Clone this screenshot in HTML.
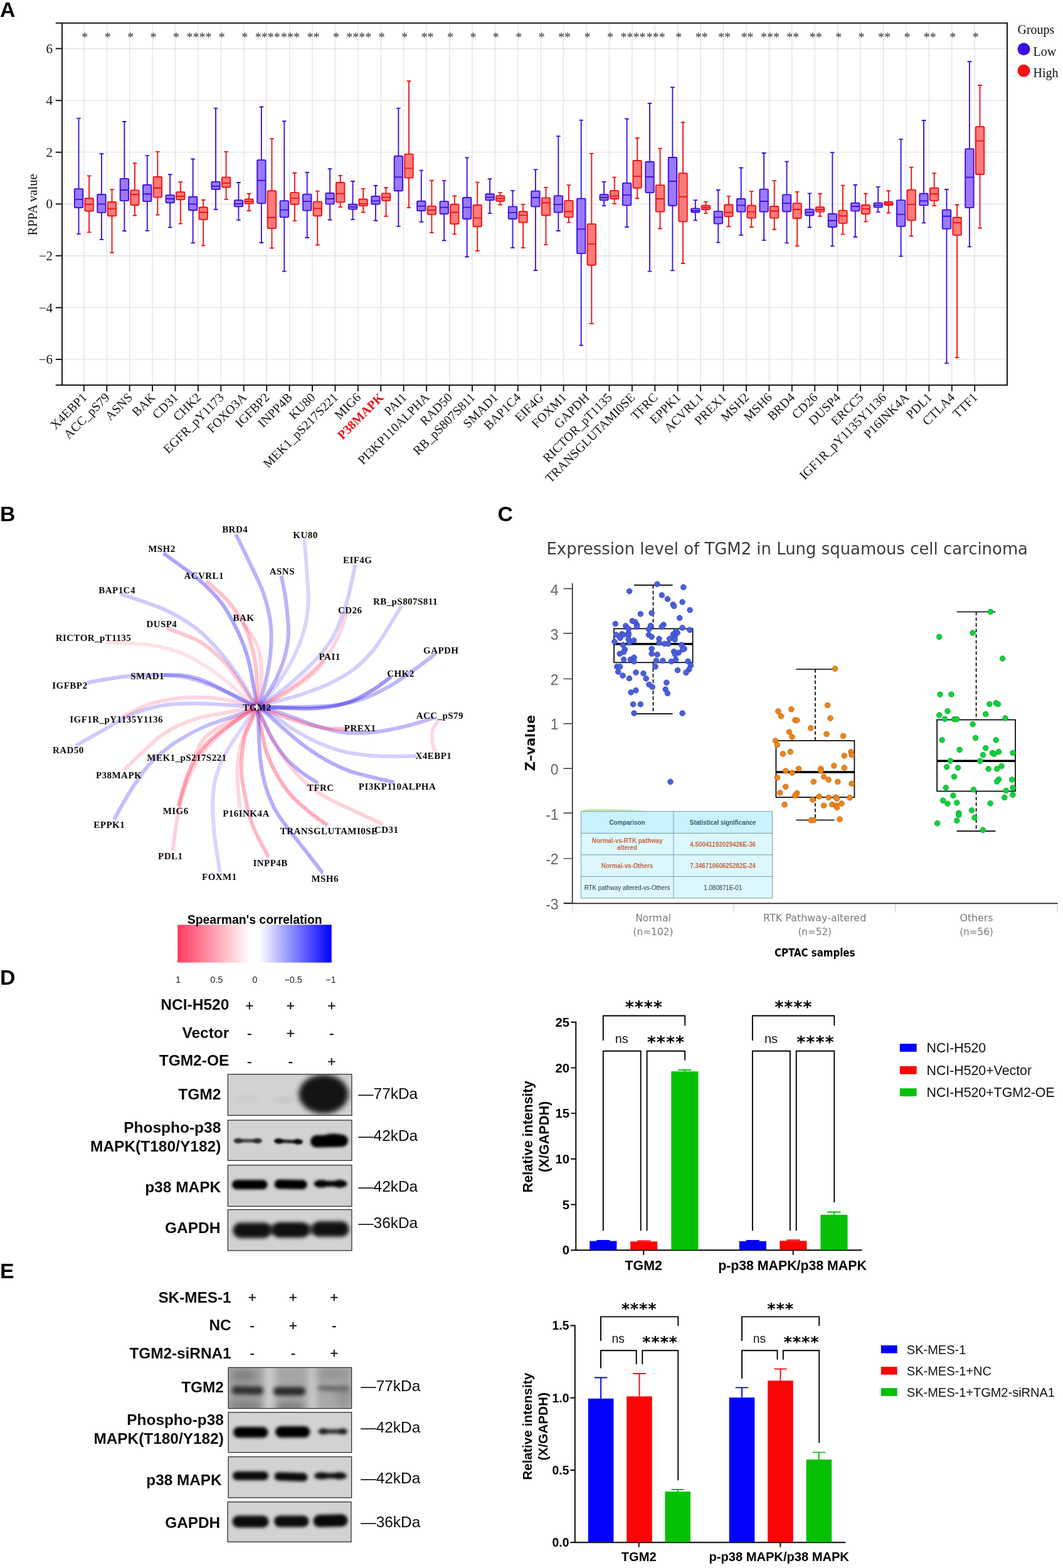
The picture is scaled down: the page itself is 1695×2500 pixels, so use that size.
<!DOCTYPE html>
<html lang="en"><head><meta charset="utf-8"><title>Figure</title>
<style>
html,body{margin:0;padding:0;background:#fff}
body{width:1695px;height:2500px;overflow:hidden}
svg{display:block}
text{white-space:pre}
</style></head><body>
<svg width="1695" height="2500" viewBox="0 0 1695 2500">
<rect width="1695" height="2500" fill="#fff"/>
<g font-family='"Liberation Sans", sans-serif' font-weight="bold" font-size="33.8" fill="#000">
<text x="0" y="26.9">A</text>
<text x="0" y="831.1">B</text>
<text x="793.5" y="831.2">C</text>
<text x="0.1" y="1570.3">D</text>
<text x="0.1" y="2038.4">E</text>
</g>
<g id="panelA">
<path d="M99 77.62H1606M99 160.18H1606M99 242.74H1606M99 325.3H1606M99 407.86H1606M99 490.42H1606M99 572.98H1606M133.8 36.8V613.9M170.22 36.8V613.9M206.64 36.8V613.9M243.06 36.8V613.9M279.48 36.8V613.9M315.9 36.8V613.9M352.32 36.8V613.9M388.74 36.8V613.9M425.16 36.8V613.9M461.58 36.8V613.9M498 36.8V613.9M534.42 36.8V613.9M570.84 36.8V613.9M607.26 36.8V613.9M643.68 36.8V613.9M680.1 36.8V613.9M716.52 36.8V613.9M752.94 36.8V613.9M789.36 36.8V613.9M825.78 36.8V613.9M862.2 36.8V613.9M898.62 36.8V613.9M935.04 36.8V613.9M971.46 36.8V613.9M1007.88 36.8V613.9M1044.3 36.8V613.9M1080.72 36.8V613.9M1117.14 36.8V613.9M1153.56 36.8V613.9M1189.98 36.8V613.9M1226.4 36.8V613.9M1262.82 36.8V613.9M1299.24 36.8V613.9M1335.66 36.8V613.9M1372.08 36.8V613.9M1408.5 36.8V613.9M1444.92 36.8V613.9M1481.34 36.8V613.9M1517.76 36.8V613.9M1554.18 36.8V613.9" stroke="#e0e0e0" stroke-width="1.2" fill="none"/>
<g fill="#9b79fb" stroke="#3a0fe0" stroke-width="1.85"><rect x="118.8" y="301.15" width="13.4" height="29.93" rx="1.2"/><rect x="155.22" y="310.03" width="13.4" height="28.9" rx="1.2"/><rect x="191.64" y="284.85" width="13.4" height="35.29" rx="1.2"/><rect x="228.06" y="294.75" width="13.4" height="26.42" rx="1.2"/><rect x="264.48" y="311.26" width="13.4" height="11.97" rx="1.2"/><rect x="300.9" y="313.74" width="13.4" height="21.47" rx="1.2"/><rect x="337.32" y="289.8" width="13.4" height="11.97" rx="1.2"/><rect x="373.74" y="319.11" width="13.4" height="10.32" rx="1.2"/><rect x="410.16" y="255.12" width="13.4" height="68.94" rx="1.2"/><rect x="446.58" y="320.14" width="13.4" height="26.21" rx="1.2"/><rect x="483" y="309.61" width="13.4" height="26.01" rx="1.2"/><rect x="519.42" y="307.96" width="13.4" height="17.34" rx="1.2"/><rect x="555.84" y="325.71" width="13.4" height="7.84" rx="1.2"/><rect x="592.26" y="312.92" width="13.4" height="12.59" rx="1.2"/><rect x="628.68" y="248.73" width="13.4" height="55.52" rx="1.2"/><rect x="665.1" y="320.76" width="13.4" height="15.27" rx="1.2"/><rect x="701.52" y="321.17" width="13.4" height="19.81" rx="1.2"/><rect x="737.94" y="314.98" width="13.4" height="34.06" rx="1.2"/><rect x="774.36" y="309.2" width="13.4" height="9.91" rx="1.2"/><rect x="810.78" y="329.43" width="13.4" height="19.61" rx="1.2"/><rect x="847.2" y="304.66" width="13.4" height="24.77" rx="1.2"/><rect x="883.62" y="312.09" width="13.4" height="26.42" rx="1.2"/><rect x="920.04" y="316.63" width="13.4" height="87.51" rx="1.2"/><rect x="956.46" y="310.23" width="13.4" height="8.88" rx="1.2"/><rect x="992.88" y="291.86" width="13.4" height="35.5" rx="1.2"/><rect x="1029.3" y="258.01" width="13.4" height="49.12" rx="1.2"/><rect x="1065.72" y="251" width="13.4" height="76.78" rx="1.2"/><rect x="1102.14" y="332.32" width="13.4" height="6.19" rx="1.2"/><rect x="1138.56" y="336.86" width="13.4" height="19.81" rx="1.2"/><rect x="1174.98" y="317.04" width="13.4" height="20.64" rx="1.2"/><rect x="1211.4" y="301.56" width="13.4" height="36.12" rx="1.2"/><rect x="1247.82" y="310.44" width="13.4" height="26.83" rx="1.2"/><rect x="1284.24" y="333.56" width="13.4" height="9.91" rx="1.2"/><rect x="1320.66" y="340.99" width="13.4" height="21.05" rx="1.2"/><rect x="1357.08" y="323.65" width="13.4" height="12.8" rx="1.2"/><rect x="1393.5" y="323.65" width="13.4" height="7.02" rx="1.2"/><rect x="1429.92" y="319.11" width="13.4" height="41.69" rx="1.2"/><rect x="1466.34" y="308.79" width="13.4" height="18.58" rx="1.2"/><rect x="1502.76" y="334.59" width="13.4" height="30.34" rx="1.2"/><rect x="1539.18" y="237.37" width="13.4" height="93.71" rx="1.2"/><path d="M125.5 188.66V301.15M125.5 331.08V373.18M122.2 188.66h6.6M122.2 373.18h6.6M118.8 317.87h13.4M161.92 245.22V310.03M161.92 338.92V381.85M158.62 245.22h6.6M158.62 381.85h6.6M155.22 325.3h13.4M198.34 194.03V284.85M198.34 320.14V368.23M195.04 194.03h6.6M195.04 368.23h6.6M191.64 303.01h13.4M234.76 248.11V294.75M234.76 321.17V367.82M231.46 248.11h6.6M231.46 367.82h6.6M228.06 309.2h13.4M271.18 278.24V311.26M271.18 323.24V362.45M267.88 278.24h6.6M267.88 362.45h6.6M264.48 317.04h13.4M307.6 253.47V313.74M307.6 335.21V387.43M304.3 253.47h6.6M304.3 387.43h6.6M300.9 325.3h13.4M344.02 172.56V289.8M344.02 301.77V333.97M340.72 172.56h6.6M340.72 333.97h6.6M337.32 296.82h13.4M380.44 291.04V319.11M380.44 329.43V350.89M377.14 291.04h6.6M377.14 350.89h6.6M373.74 324.89h13.4M416.86 170.5V255.12M416.86 324.06V387.01M413.56 170.5h6.6M413.56 387.01h6.6M410.16 287.74h13.4M453.28 193.2V320.14M453.28 346.35V432.63M449.98 193.2h6.6M449.98 432.63h6.6M446.58 334.59h13.4M489.7 274.94V309.61M489.7 335.62V378.96M486.4 274.94h6.6M486.4 378.96h6.6M483 321.17h13.4M526.12 269.16V307.96M526.12 325.3V350.48M522.82 269.16h6.6M522.82 350.48h6.6M519.42 317.04h13.4M562.54 288.97V325.71M562.54 333.56V350.07M559.24 288.97h6.6M559.24 350.07h6.6M555.84 329.84h13.4M598.96 295.99V312.92M598.96 325.51V351.72M595.66 295.99h6.6M595.66 351.72h6.6M592.26 320.35h13.4M635.38 172.56V248.73M635.38 304.25V360.8M632.08 172.56h6.6M632.08 360.8h6.6M628.68 282.37h13.4M671.8 271.64V320.76M671.8 336.03V353.78M668.5 271.64h6.6M668.5 353.78h6.6M665.1 328.6h13.4M708.22 288.15V321.17M708.22 340.99V383.5M704.92 288.15h6.6M704.92 383.5h6.6M701.52 330.67h13.4M744.64 251.41V314.98M744.64 349.04V409.51M741.34 251.41h6.6M741.34 409.51h6.6M737.94 330.67h13.4M781.06 285.26V309.2M781.06 319.11V340.16M777.76 285.26h6.6M777.76 340.16h6.6M774.36 314.57h13.4M817.48 303.83V329.43M817.48 349.04V395.06M814.18 303.83h6.6M814.18 395.06h6.6M810.78 338.92h13.4M853.9 270.4V304.66M853.9 329.43V430.98M850.6 270.4h6.6M850.6 430.98h6.6M847.2 314.98h13.4M890.32 217.15V312.09M890.32 338.51V368.02M887.02 217.15h6.6M887.02 368.02h6.6M883.62 326.13h13.4M926.74 191.55V316.63M926.74 404.14V550.69M923.44 191.55h6.6M923.44 550.69h6.6M920.04 365.34h13.4M963.16 289.8V310.23M963.16 319.11V328.19M959.86 289.8h6.6M959.86 328.19h6.6M956.46 314.98h13.4M999.58 189.49V291.86M999.58 327.36V362.04M996.28 189.49h6.6M996.28 362.04h6.6M992.88 310.85h13.4M1036 164.72V258.01M1036 307.14V432.63M1032.7 164.72h6.6M1032.7 432.63h6.6M1029.3 281.96h13.4M1072.42 139.13V251M1072.42 327.78V431.39M1069.12 139.13h6.6M1069.12 431.39h6.6M1065.72 288.97h13.4M1108.84 319.11V332.32M1108.84 338.51V351.31M1105.54 319.11h6.6M1105.54 351.31h6.6M1102.14 336.03h13.4M1145.26 303.01V336.86M1145.26 356.67V386.6M1141.96 303.01h6.6M1141.96 386.6h6.6M1138.56 346.35h13.4M1181.68 267.51V317.04M1181.68 337.68V374.84M1178.38 267.51h6.6M1178.38 374.84h6.6M1174.98 327.36h13.4M1218.1 243.98V301.56M1218.1 337.68V383.09M1214.8 243.98h6.6M1214.8 383.09h6.6M1211.4 320.97h13.4M1254.52 257.6V310.44M1254.52 337.27V387.43M1251.22 257.6h6.6M1251.22 387.43h6.6M1247.82 324.06h13.4M1290.94 308.38V333.56M1290.94 343.46V362.45M1287.64 308.38h6.6M1287.64 362.45h6.6M1284.24 338.51h13.4M1327.36 243.15V340.99M1327.36 362.04V392.38M1324.06 243.15h6.6M1324.06 392.38h6.6M1320.66 351.72h13.4M1363.78 294.75V323.65M1363.78 336.45V377.73M1360.48 294.75h6.6M1360.48 377.73h6.6M1357.08 329.02h13.4M1400.2 298.06V323.65M1400.2 330.67V338.1M1396.9 298.06h6.6M1396.9 338.1h6.6M1393.5 327.36h13.4M1436.62 222.1V319.11M1436.62 360.8V408.69M1433.32 222.1h6.6M1433.32 408.69h6.6M1429.92 341.81h13.4M1473.04 191.97V308.79M1473.04 327.36V355.43M1469.74 191.97h6.6M1469.74 355.43h6.6M1466.34 320.35h13.4M1509.46 301.98V334.59M1509.46 364.93V579.17M1506.16 301.98h6.6M1506.16 579.17h6.6M1502.76 344.7h13.4M1545.88 98.26V237.37M1545.88 331.08V393.41M1542.58 98.26h6.6M1542.58 393.41h6.6M1539.18 282.58h13.4" fill="none"/></g>
<g fill="#ff7a7a" stroke="#f01010" stroke-width="1.85"><rect x="135.4" y="316.22" width="13.4" height="20.23" rx="1.2"/><rect x="171.82" y="322" width="13.4" height="22.29" rx="1.2"/><rect x="208.24" y="303.42" width="13.4" height="23.53" rx="1.2"/><rect x="244.66" y="281.96" width="13.4" height="32.61" rx="1.2"/><rect x="281.08" y="306.1" width="13.4" height="12.18" rx="1.2"/><rect x="317.5" y="330.46" width="13.4" height="19.61" rx="1.2"/><rect x="353.92" y="282.58" width="13.4" height="15.89" rx="1.2"/><rect x="390.34" y="317.46" width="13.4" height="7.22" rx="1.2"/><rect x="426.76" y="304.25" width="13.4" height="59.86" rx="1.2"/><rect x="463.18" y="307.14" width="13.4" height="18.58" rx="1.2"/><rect x="499.6" y="321.58" width="13.4" height="22.7" rx="1.2"/><rect x="536.02" y="291.04" width="13.4" height="31.37" rx="1.2"/><rect x="572.44" y="317.46" width="13.4" height="10.73" rx="1.2"/><rect x="608.86" y="308.38" width="13.4" height="11.35" rx="1.2"/><rect x="645.28" y="245.63" width="13.4" height="37.98" rx="1.2"/><rect x="681.7" y="328.6" width="13.4" height="13.21" rx="1.2"/><rect x="718.12" y="325.71" width="13.4" height="31.37" rx="1.2"/><rect x="754.54" y="326.95" width="13.4" height="34.26" rx="1.2"/><rect x="790.96" y="312.09" width="13.4" height="8.67" rx="1.2"/><rect x="827.38" y="337.27" width="13.4" height="17.34" rx="1.2"/><rect x="863.8" y="315.39" width="13.4" height="28.07" rx="1.2"/><rect x="900.22" y="319.93" width="13.4" height="26.42" rx="1.2"/><rect x="936.64" y="357.09" width="13.4" height="65.64" rx="1.2"/><rect x="973.06" y="303.83" width="13.4" height="13.21" rx="1.2"/><rect x="1009.48" y="255.95" width="13.4" height="43.76" rx="1.2"/><rect x="1045.9" y="295.17" width="13.4" height="42.52" rx="1.2"/><rect x="1082.32" y="276.18" width="13.4" height="77.19" rx="1.2"/><rect x="1118.74" y="327.78" width="13.4" height="6.19" rx="1.2"/><rect x="1155.16" y="326.54" width="13.4" height="18.58" rx="1.2"/><rect x="1191.58" y="327.78" width="13.4" height="19.81" rx="1.2"/><rect x="1228" y="329.02" width="13.4" height="18.58" rx="1.2"/><rect x="1264.42" y="324.06" width="13.4" height="23.94" rx="1.2"/><rect x="1300.84" y="330.25" width="13.4" height="7.43" rx="1.2"/><rect x="1337.26" y="335.62" width="13.4" height="20.23" rx="1.2"/><rect x="1373.68" y="326.95" width="13.4" height="14.04" rx="1.2"/><rect x="1410.1" y="322" width="13.4" height="4.95" rx="1.2"/><rect x="1446.52" y="302.6" width="13.4" height="48.71" rx="1.2"/><rect x="1482.94" y="299.71" width="13.4" height="20.23" rx="1.2"/><rect x="1519.36" y="346.77" width="13.4" height="28.07" rx="1.2"/><rect x="1555.78" y="201.87" width="13.4" height="76.16" rx="1.2"/><path d="M142.1 280.3V316.22M142.1 336.45V370.3M138.8 280.3h6.6M138.8 370.3h6.6M135.4 325.71h13.4M178.52 302.18V322M178.52 344.29V402.91M175.22 302.18h6.6M175.22 402.91h6.6M171.82 333.14h13.4M214.94 260.08V303.42M214.94 326.95V343.46M211.64 260.08h6.6M211.64 343.46h6.6M208.24 310.03h13.4M251.36 241.91V281.96M251.36 314.57V342.64M248.06 241.91h6.6M248.06 342.64h6.6M244.66 299.71h13.4M287.78 290.21V306.1M287.78 318.28V356.67M284.48 290.21h6.6M284.48 356.67h6.6M281.08 312.92h13.4M324.2 318.7V330.46M324.2 350.07V391.35M320.9 318.7h6.6M320.9 391.35h6.6M317.5 338.51h13.4M360.62 241.91V282.58M360.62 298.47V317.87M357.32 241.91h6.6M357.32 317.87h6.6M353.92 291.86h13.4M397.04 308.79V317.46M397.04 324.68V336.03M393.74 308.79h6.6M393.74 336.03h6.6M390.34 321.17h13.4M433.46 221.07V304.25M433.46 364.1V395.48M430.16 221.07h6.6M430.16 395.48h6.6M426.76 346.77h13.4M469.88 275.76V307.14M469.88 325.71V352.13M466.58 275.76h6.6M466.58 352.13h6.6M463.18 315.81h13.4M506.3 304.66V321.58M506.3 344.29V390.52M503 304.66h6.6M503 390.52h6.6M499.6 332.32h13.4M542.72 279.89V291.04M542.72 322.41V330.05M539.42 279.89h6.6M539.42 330.05h6.6M536.02 308.79h13.4M579.14 300.94V317.46M579.14 328.19V338.51M575.84 300.94h6.6M575.84 338.51h6.6M572.44 324.89h13.4M615.56 299.29V308.38M615.56 319.73V344.7M612.26 299.29h6.6M612.26 344.7h6.6M608.86 314.57h13.4M651.98 129.22V245.63M651.98 283.61V331.08M648.68 129.22h6.6M648.68 331.08h6.6M645.28 268.33h13.4M688.4 287.74V328.6M688.4 341.81V371.12M685.1 287.74h6.6M685.1 371.12h6.6M681.7 335h13.4M724.82 312.5V325.71M724.82 357.09V373.39M721.52 312.5h6.6M721.52 373.39h6.6M718.12 338.51h13.4M761.24 290.62V326.95M761.24 361.21V400.02M757.94 290.62h6.6M757.94 400.02h6.6M754.54 347.59h13.4M797.66 307.14V312.09M797.66 320.76V326.54M794.36 307.14h6.6M794.36 326.54h6.6M790.96 316.63h13.4M834.08 325.92V337.27M834.08 354.61V395.06M830.78 325.92h6.6M830.78 395.06h6.6M827.38 343.05h13.4M870.5 298.88V315.39M870.5 343.46V390.11M867.2 298.88h6.6M867.2 390.11h6.6M863.8 323.24h13.4M906.92 295.17V319.93M906.92 346.35V354.61M903.62 295.17h6.6M903.62 354.61h6.6M900.22 337.27h13.4M943.34 244.8V357.09M943.34 422.72V516.01M940.04 244.8h6.6M940.04 516.01h6.6M936.64 388.87h13.4M979.76 282.58V303.83M979.76 317.04V324.89M976.46 282.58h6.6M976.46 324.89h6.6M973.06 312.5h13.4M1016.18 220.04V255.95M1016.18 299.71V316.22M1012.88 220.04h6.6M1012.88 316.22h6.6M1009.48 281.13h13.4M1052.6 236.55V295.17M1052.6 337.68V364.52M1049.3 236.55h6.6M1049.3 364.52h6.6M1045.9 317.04h13.4M1089.02 194.86V276.18M1089.02 353.37V420.04M1085.72 194.86h6.6M1085.72 420.04h6.6M1082.32 313.74h13.4M1125.44 321.58V327.78M1125.44 333.97V340.16M1122.14 321.58h6.6M1122.14 340.16h6.6M1118.74 331.08h13.4M1161.86 312.92V326.54M1161.86 345.11V361.21M1158.56 312.92h6.6M1158.56 361.21h6.6M1155.16 338.51h13.4M1198.28 305.07V327.78M1198.28 347.59V362.04M1194.98 305.07h6.6M1194.98 362.04h6.6M1191.58 337.68h13.4M1234.7 288.15V329.02M1234.7 347.59V365.75M1231.4 288.15h6.6M1231.4 365.75h6.6M1228 336.45h13.4M1271.12 305.9V324.06M1271.12 348V392.17M1267.82 305.9h6.6M1267.82 392.17h6.6M1264.42 333.97h13.4M1307.54 308.79V330.25M1307.54 337.68V344.7M1304.24 308.79h6.6M1304.24 344.7h6.6M1300.84 333.97h13.4M1343.96 295.58V335.62M1343.96 355.85V373.6M1340.66 295.58h6.6M1340.66 373.6h6.6M1337.26 344.29h13.4M1380.38 308.79V326.95M1380.38 340.99V353.37M1377.08 308.79h6.6M1377.08 353.37h6.6M1373.68 333.14h13.4M1416.8 304.25V322M1416.8 326.95V339.54M1413.5 304.25h6.6M1413.5 339.54h6.6M1410.1 324.68h13.4M1453.22 266.68V302.6M1453.22 351.31V376.49M1449.92 266.68h6.6M1449.92 376.49h6.6M1446.52 325.92h13.4M1489.64 276.18V299.71M1489.64 319.93V328.19M1486.34 276.18h6.6M1486.34 328.19h6.6M1482.94 309.2h13.4M1526.06 326.54V346.77M1526.06 374.84V570.09M1522.76 326.54h6.6M1522.76 570.09h6.6M1519.36 355.02h13.4M1562.48 136.03V201.87M1562.48 278.03V363.69M1559.18 136.03h6.6M1559.18 363.69h6.6M1555.78 224.58h13.4" fill="none"/></g>
<path d="M88.8 36.8H1606V613.9H88.8 M99 36.8V613.9" stroke="#1a1a1a" stroke-width="2" fill="none"/>
<path d="M88.8 77.62H99M88.8 160.18H99M88.8 242.74H99M88.8 325.3H99M88.8 407.86H99M88.8 490.42H99M88.8 572.98H99M133.8 613.9V623.9M170.22 613.9V623.9M206.64 613.9V623.9M243.06 613.9V623.9M279.48 613.9V623.9M315.9 613.9V623.9M352.32 613.9V623.9M388.74 613.9V623.9M425.16 613.9V623.9M461.58 613.9V623.9M498 613.9V623.9M534.42 613.9V623.9M570.84 613.9V623.9M607.26 613.9V623.9M643.68 613.9V623.9M680.1 613.9V623.9M716.52 613.9V623.9M752.94 613.9V623.9M789.36 613.9V623.9M825.78 613.9V623.9M862.2 613.9V623.9M898.62 613.9V623.9M935.04 613.9V623.9M971.46 613.9V623.9M1007.88 613.9V623.9M1044.3 613.9V623.9M1080.72 613.9V623.9M1117.14 613.9V623.9M1153.56 613.9V623.9M1189.98 613.9V623.9M1226.4 613.9V623.9M1262.82 613.9V623.9M1299.24 613.9V623.9M1335.66 613.9V623.9M1372.08 613.9V623.9M1408.5 613.9V623.9M1444.92 613.9V623.9M1481.34 613.9V623.9M1517.76 613.9V623.9M1554.18 613.9V623.9" stroke="#1a1a1a" stroke-width="2" fill="none"/>
<g font-family='"Liberation Serif", serif' font-size="21" text-anchor="end" fill="#111">
<text x="84" y="84.72">6</text>
<text x="84" y="167.28">4</text>
<text x="84" y="249.84">2</text>
<text x="84" y="332.4">0</text>
<text x="84" y="414.96">−2</text>
<text x="84" y="497.52">−4</text>
<text x="84" y="580.08">−6</text>
</g>
<text transform="translate(59.3 326.5) rotate(-90)" font-family='"Liberation Serif", serif' font-size="20.6" text-anchor="middle" fill="#111">RPPA value</text>
<g font-family='"Liberation Serif", serif' font-size="20" text-anchor="middle" fill="#333">
<text x="135.3" y="66">*</text>
<text x="171.72" y="66">*</text>
<text x="208.14" y="66">*</text>
<text x="244.56" y="66">*</text>
<text x="280.98" y="66">*</text>
<text x="317.4" y="66">****</text>
<text x="353.82" y="66">*</text>
<text x="390.24" y="66">*</text>
<text x="426.66" y="66">****</text>
<text x="463.08" y="66">***</text>
<text x="499.5" y="66">**</text>
<text x="535.92" y="66">*</text>
<text x="572.34" y="66">****</text>
<text x="608.76" y="66">*</text>
<text x="645.18" y="66">*</text>
<text x="681.6" y="66">**</text>
<text x="718.02" y="66">*</text>
<text x="754.44" y="66">*</text>
<text x="790.86" y="66">*</text>
<text x="827.28" y="66">*</text>
<text x="863.7" y="66">*</text>
<text x="900.12" y="66">**</text>
<text x="936.54" y="66">*</text>
<text x="972.96" y="66">*</text>
<text x="1009.38" y="66">****</text>
<text x="1045.8" y="66">***</text>
<text x="1082.22" y="66">*</text>
<text x="1118.64" y="66">**</text>
<text x="1155.06" y="66">**</text>
<text x="1191.48" y="66">**</text>
<text x="1227.9" y="66">***</text>
<text x="1264.32" y="66">**</text>
<text x="1300.74" y="66">**</text>
<text x="1337.16" y="66">*</text>
<text x="1373.58" y="66">*</text>
<text x="1410" y="66">**</text>
<text x="1446.42" y="66">*</text>
<text x="1482.84" y="66">**</text>
<text x="1519.26" y="66">*</text>
<text x="1555.68" y="66">*</text>
</g>
<g font-family='"Liberation Serif", serif' font-size="20.3" text-anchor="end" fill="#111">
<text transform="translate(139.6 634.8) rotate(-45)">X4EBP1</text>
<text transform="translate(176.02 634.8) rotate(-45)">ACC_pS79</text>
<text transform="translate(212.44 634.8) rotate(-45)">ASNS</text>
<text transform="translate(248.86 634.8) rotate(-45)">BAK</text>
<text transform="translate(285.28 634.8) rotate(-45)">CD31</text>
<text transform="translate(321.7 634.8) rotate(-45)">CHK2</text>
<text transform="translate(358.12 634.8) rotate(-45)">EGFR_pY1173</text>
<text transform="translate(394.54 634.8) rotate(-45)">FOXO3A</text>
<text transform="translate(430.96 634.8) rotate(-45)">IGFBP2</text>
<text transform="translate(467.38 634.8) rotate(-45)">INPP4B</text>
<text transform="translate(503.8 634.8) rotate(-45)">KU80</text>
<text transform="translate(540.22 634.8) rotate(-45)">MEK1_pS217S221</text>
<text transform="translate(576.64 634.8) rotate(-45)">MIG6</text>
<text transform="translate(613.06 634.8) rotate(-45)" fill="#e8141c" font-weight="bold">P38MAPK</text>
<text transform="translate(649.48 634.8) rotate(-45)">PAI1</text>
<text transform="translate(685.9 634.8) rotate(-45)">PI3KP110ALPHA</text>
<text transform="translate(722.32 634.8) rotate(-45)">RAD50</text>
<text transform="translate(758.74 634.8) rotate(-45)">RB_pS807S811</text>
<text transform="translate(795.16 634.8) rotate(-45)">SMAD1</text>
<text transform="translate(831.58 634.8) rotate(-45)">BAP1C4</text>
<text transform="translate(868 634.8) rotate(-45)">EIF4G</text>
<text transform="translate(904.42 634.8) rotate(-45)">FOXM1</text>
<text transform="translate(940.84 634.8) rotate(-45)">GAPDH</text>
<text transform="translate(977.26 634.8) rotate(-45)">RICTOR_pT1135</text>
<text transform="translate(1013.68 634.8) rotate(-45)">TRANSGLUTAMI0SE</text>
<text transform="translate(1050.1 634.8) rotate(-45)">TFRC</text>
<text transform="translate(1086.52 634.8) rotate(-45)">EPPK1</text>
<text transform="translate(1122.94 634.8) rotate(-45)">ACVRL1</text>
<text transform="translate(1159.36 634.8) rotate(-45)">PREX1</text>
<text transform="translate(1195.78 634.8) rotate(-45)">MSH2</text>
<text transform="translate(1232.2 634.8) rotate(-45)">MSH6</text>
<text transform="translate(1268.62 634.8) rotate(-45)">BRD4</text>
<text transform="translate(1305.04 634.8) rotate(-45)">CD26</text>
<text transform="translate(1341.46 634.8) rotate(-45)">DUSP4</text>
<text transform="translate(1377.88 634.8) rotate(-45)">ERCC5</text>
<text transform="translate(1414.3 634.8) rotate(-45)">IGF1R_pY1135Y1136</text>
<text transform="translate(1450.72 634.8) rotate(-45)">P16INK4A</text>
<text transform="translate(1487.14 634.8) rotate(-45)">PDL1</text>
<text transform="translate(1523.56 634.8) rotate(-45)">CTLA4</text>
<text transform="translate(1559.98 634.8) rotate(-45)">TTF1</text>
</g>
<text x="1622.5" y="54" font-size="20" font-family='"Liberation Serif", serif' fill="#111">Groups</text>
<circle cx="1632.5" cy="78.3" r="10" fill="#3a0fe8"/>
<circle cx="1632.5" cy="112.8" r="10" fill="#f51212"/>
<text x="1647.5" y="88.5" font-size="20" font-family='"Liberation Serif", serif' fill="#111">Low</text>
<text x="1647.5" y="123" font-size="20" font-family='"Liberation Serif", serif' fill="#111">High</text>
</g>
<g id="panelB">
<defs><linearGradient id="spg" x1="0" x2="1" y1="0" y2="0"><stop offset="0" stop-color="#ff3c5e"/><stop offset="0.47" stop-color="#fff"/><stop offset="0.53" stop-color="#fff"/><stop offset="1" stop-color="#0000ff"/></linearGradient></defs>
<g fill="none" stroke-width="6" stroke-linecap="butt">
<path d="M375.99 851.73C379.59 859.13 390.16 880.28 397.56 896.14C404.97 912.01 414.7 929.98 420.41 946.9C426.12 963.82 430.14 980.74 431.83 997.66C433.52 1014.59 432.46 1031.51 430.56 1048.43C428.65 1065.35 423.88 1086.01 420.41 1099.19C416.93 1112.37 411.48 1122.78 409.7 1127.5" stroke="#2a14f0" stroke-opacity="0.32"/>
<path d="M260.51 882.18C269.39 888.74 298.58 908.62 313.81 921.52C329.04 934.42 341.3 946.06 351.88 959.59C362.45 973.13 370.07 987.94 377.26 1002.74C384.45 1017.55 390.37 1032.35 395.03 1048.43C399.68 1064.5 402.73 1086.01 405.18 1099.19C407.62 1112.37 408.95 1122.78 409.7 1127.5" stroke="#2a14f0" stroke-opacity="0.38"/>
<path d="M329.04 926.6C334.96 932.1 354.42 947.75 364.57 959.59C374.72 971.44 383.6 984.97 389.95 997.66C396.29 1010.36 399.47 1023.05 402.64 1035.74C405.81 1048.43 407.81 1058.51 408.98 1073.81C410.16 1089.1 409.58 1118.55 409.7 1127.5" stroke="#ff3358" stroke-opacity="0.3"/>
<path d="M387.41 992.59C390.8 997.66 403.06 1013.74 407.72 1023.05C412.37 1032.35 413.85 1037.85 415.33 1048.43C416.81 1059 417.54 1073.32 416.6 1086.5C415.66 1099.68 410.85 1120.67 409.7 1127.5" stroke="#ff3358" stroke-opacity="0.2"/>
<path d="M191.98 946.9C203.82 951.13 242.74 962.98 263.05 972.28C283.35 981.59 299 991.32 313.81 1002.74C328.61 1014.16 340.46 1027.7 351.88 1040.81C363.3 1053.93 374.3 1069.58 382.34 1081.42C390.37 1093.27 395.54 1104.2 400.1 1111.88C404.66 1119.56 408.1 1124.9 409.7 1127.5" stroke="#2a14f0" stroke-opacity="0.22"/>
<path d="M265.58 1001.47C273.62 1004.64 301.54 1014.37 313.81 1020.51C326.07 1026.64 330.73 1031.08 339.19 1038.27C347.65 1045.47 356.11 1053.5 364.57 1063.65C373.03 1073.81 382.43 1088.55 389.95 1099.19C397.47 1109.83 406.41 1122.78 409.7 1127.5" stroke="#ff3358" stroke-opacity="0.28"/>
<path d="M169.14 1024.31C180.56 1024.95 217.78 1025.37 237.66 1028.12C257.55 1030.87 273.62 1035.31 288.43 1040.81C303.23 1046.31 313.81 1053.08 326.5 1061.12C339.19 1069.15 353.15 1079.73 364.57 1089.04C375.99 1098.34 387.5 1110.54 395.03 1116.95C402.55 1123.37 407.25 1125.74 409.7 1127.5" stroke="#ff3358" stroke-opacity="0.15"/>
<path d="M260.51 1076.35C265.16 1076.35 279.54 1075.5 288.43 1076.35C297.31 1077.19 305.35 1078.88 313.81 1081.42C322.27 1083.96 328.61 1086.5 339.19 1091.57C349.76 1096.65 365.51 1105.89 377.26 1111.88C389.01 1117.87 404.29 1124.9 409.7 1127.5" stroke="#2a14f0" stroke-opacity="0.32"/>
<path d="M136.14 1089.04C144.6 1087.55 169.98 1082.27 186.9 1080.15C203.82 1078.04 220.74 1076.56 237.66 1076.35C254.59 1076.13 273.62 1076.77 288.43 1078.88C303.23 1081 313.81 1084.81 326.5 1089.04C339.19 1093.27 353.99 1099.61 364.57 1104.26C375.14 1108.92 382.43 1113.08 389.95 1116.95C397.47 1120.83 406.41 1125.74 409.7 1127.5" stroke="#2a14f0" stroke-opacity="0.25"/>
<path d="M120.91 1188.83C127.68 1185.03 146.29 1174.45 161.52 1165.99C176.75 1157.53 195.36 1145.05 212.28 1138.07C229.2 1131.09 246.13 1126.86 263.05 1124.11C279.97 1121.36 296.89 1121.57 313.81 1121.57C330.73 1121.57 348.59 1123.12 364.57 1124.11C380.55 1125.1 402.18 1126.94 409.7 1127.5" stroke="#2a14f0" stroke-opacity="0.22"/>
<path d="M194.52 1143.15C201.71 1139.76 222.01 1127.92 237.66 1122.84C253.32 1117.77 271.51 1114.38 288.43 1112.69C305.35 1111 324.38 1111.63 339.19 1112.69C353.99 1113.75 365.51 1116.57 377.26 1119.04C389.01 1121.5 404.29 1126.09 409.7 1127.5" stroke="#ff3358" stroke-opacity="0.2"/>
<path d="M198.32 1226.9C202.77 1222.67 214.19 1211.25 224.97 1201.52C235.76 1191.79 248.24 1177.83 263.05 1168.53C277.85 1159.22 296.89 1151.18 313.81 1145.69C330.73 1140.19 348.59 1138.56 364.57 1135.53C380.55 1132.5 402.18 1128.84 409.7 1127.5" stroke="#ff3358" stroke-opacity="0.2"/>
<path d="M181.83 1306.85C186.06 1299.45 197.9 1277.03 207.21 1262.44C216.51 1247.84 226.24 1231.98 237.66 1219.29C249.09 1206.6 260.93 1196.45 275.74 1186.29C290.54 1176.14 309.58 1165.99 326.5 1158.38C343.42 1150.76 363.39 1145.76 377.26 1140.61C391.13 1135.46 404.29 1129.68 409.7 1127.5" stroke="#2a14f0" stroke-opacity="0.28"/>
<path d="M308.73 1209.14C311.69 1203.64 317.19 1185.87 326.5 1176.14C335.8 1166.41 350.7 1158.87 364.57 1150.76C378.44 1142.65 402.18 1131.38 409.7 1127.5" stroke="#ff3358" stroke-opacity="0.22"/>
<path d="M284.62 1285.28C286.1 1279.78 289.48 1264.13 293.5 1252.28C297.52 1240.44 301.96 1226.06 308.73 1214.21C315.5 1202.37 322.69 1192.22 334.11 1181.22C345.53 1170.22 364.66 1157.18 377.26 1148.22C389.86 1139.27 404.29 1130.95 409.7 1127.5" stroke="#ff3358" stroke-opacity="0.4"/>
<path d="M275.74 1356.35C276.58 1349.58 278.7 1328.85 280.81 1315.74C282.93 1302.62 285.04 1290.36 288.43 1277.66C291.81 1264.97 295.62 1252.28 301.12 1239.59C306.62 1226.9 310.85 1215.06 321.42 1201.52C332 1187.99 349.86 1170.71 364.57 1158.38C379.28 1146.04 402.18 1132.65 409.7 1127.5" stroke="#ff3358" stroke-opacity="0.22"/>
<path d="M350.61 1390.61C349.13 1380.25 343.63 1347.25 341.73 1328.43C339.82 1309.6 338.76 1292.47 339.19 1277.66C339.61 1262.86 340.88 1252.28 344.26 1239.59C347.65 1226.9 352.3 1215.06 359.49 1201.52C366.68 1187.99 379.04 1170.71 387.41 1158.38C395.78 1146.04 405.99 1132.65 409.7 1127.5" stroke="#2a14f0" stroke-opacity="0.18"/>
<path d="M382.34 1287.82C381.7 1277.66 377.68 1245.52 378.53 1226.9C379.37 1208.29 382.22 1192.71 387.41 1176.14C392.61 1159.57 405.99 1135.61 409.7 1127.5" stroke="#ff3358" stroke-opacity="0.2"/>
<path d="M428.02 1366.5C423.79 1358.04 408.98 1332.66 402.64 1315.74C396.29 1298.82 392.91 1279.78 389.95 1264.97C386.99 1250.17 384.87 1241.71 384.87 1226.9C384.87 1212.1 386.99 1189.68 389.95 1176.14C392.91 1162.61 399.35 1153.79 402.64 1145.69C405.93 1137.58 408.52 1130.53 409.7 1127.5" stroke="#ff3358" stroke-opacity="0.35"/>
<path d="M448.53 917.72C449.8 924.7 454.24 944.15 456.14 959.59C458.05 975.03 460.37 995.55 459.95 1010.36C459.53 1025.16 457.2 1035.74 453.6 1048.43C450.01 1061.12 443.87 1075.5 438.38 1086.5C432.88 1097.5 425.39 1107.58 420.61 1114.42C415.83 1121.25 411.52 1125.32 409.7 1127.5" stroke="#2a14f0" stroke-opacity="0.32"/>
<path d="M485.33 859.34C485.96 867.59 488.08 892.12 489.14 908.83C490.19 925.54 492.1 944.79 491.68 959.59C491.25 974.4 489.56 984.97 486.6 997.66C483.64 1010.36 479.41 1023.05 473.91 1035.74C468.41 1048.43 461.22 1061.54 453.6 1073.81C445.99 1086.07 435.54 1100.39 428.22 1109.34C420.91 1118.29 412.79 1124.47 409.7 1127.5" stroke="#2a14f0" stroke-opacity="0.18"/>
<path d="M566.55 899.95C565.07 906.93 560.84 928.93 557.66 941.83C554.49 954.73 552.17 964.67 547.51 977.36C542.86 990.05 537.36 1005.28 529.75 1017.97C522.13 1030.66 512.83 1041.66 501.83 1053.5C490.83 1065.35 475.6 1078.88 463.76 1089.04C451.91 1099.19 439.77 1108.01 430.76 1114.42C421.75 1120.83 413.21 1125.32 409.7 1127.5" stroke="#2a14f0" stroke-opacity="0.2"/>
<path d="M552.59 977.36C550.9 982.44 547.09 997.24 542.44 1007.82C537.78 1018.39 531.86 1030.66 524.67 1040.81C517.48 1050.96 509.44 1059.42 499.29 1068.73C489.14 1078.04 475.18 1088.61 463.76 1096.65C452.34 1104.69 439.77 1111.81 430.76 1116.95C421.75 1122.1 413.21 1125.74 409.7 1127.5" stroke="#ff3358" stroke-opacity="0.2"/>
<path d="M517.06 1053.5C514.52 1056.46 508.6 1064.92 501.83 1071.27C495.06 1077.61 486.18 1084.81 476.45 1091.57C466.72 1098.34 454.58 1105.89 443.45 1111.88C432.33 1117.87 415.33 1124.9 409.7 1127.5" stroke="#ff3358" stroke-opacity="0.25"/>
<path d="M640.15 965.94C636.98 971.23 628.52 986.03 621.12 997.66C613.71 1009.3 605.04 1024.31 595.74 1035.74C586.43 1047.16 576.7 1057.31 565.28 1066.19C553.86 1075.08 541.17 1082.27 527.21 1089.04C513.25 1095.8 496.75 1101.73 481.52 1106.8C466.29 1111.88 447.81 1116.04 435.84 1119.49C423.87 1122.94 414.06 1126.17 409.7 1127.5" stroke="#2a14f0" stroke-opacity="0.2"/>
<path d="M694.72 1042.08C688.8 1046.52 671.46 1060.06 659.19 1068.73C646.92 1077.4 634.65 1086.5 621.12 1094.11C607.58 1101.73 592.77 1109.34 577.97 1114.42C563.16 1119.49 548.36 1122.45 532.28 1124.57C516.21 1126.68 497.6 1126.68 481.52 1127.11C465.45 1127.53 447.81 1127.04 435.84 1127.11C423.87 1127.17 414.06 1127.43 409.7 1127.5" stroke="#2a14f0" stroke-opacity="0.3"/>
<path d="M623.65 1078.88C619 1082.27 605.89 1092.84 595.74 1099.19C585.58 1105.53 573.32 1112.51 562.74 1116.95C552.17 1121.4 543.71 1123.72 532.28 1125.84C520.86 1127.95 509.02 1129.22 494.21 1129.64C479.41 1130.07 457.54 1128.73 443.45 1128.38C429.37 1128.02 415.33 1127.65 409.7 1127.5" stroke="#2a14f0" stroke-opacity="0.45"/>
<path d="M692.18 1144.42C686.68 1146.11 671.03 1151.4 659.19 1154.57C647.34 1157.74 633.81 1161.13 621.12 1163.45C608.43 1165.78 595.74 1167.89 583.05 1168.53C570.36 1169.16 557.66 1168.95 544.97 1167.26C532.28 1165.57 519.59 1162.18 506.9 1158.38C494.21 1154.57 481.52 1148.86 468.83 1144.42C456.14 1139.97 440.62 1134.55 430.76 1131.73C420.91 1128.91 413.21 1128.2 409.7 1127.5" stroke="#2a14f0" stroke-opacity="0.3"/>
<path d="M555.13 1162.18C549.2 1161.97 531.86 1162.61 519.59 1160.91C507.33 1159.22 494.21 1155.63 481.52 1152.03C468.83 1148.43 455.42 1143.43 443.45 1139.34C431.48 1135.25 415.33 1129.47 409.7 1127.5" stroke="#ff3358" stroke-opacity="0.35"/>
<path d="M664.26 1205.33C657.07 1205.46 634.65 1206.3 621.12 1206.09C607.58 1205.88 595.74 1205.46 583.05 1204.06C570.36 1202.66 557.66 1201.1 544.97 1197.72C532.28 1194.33 519.59 1189.47 506.9 1183.76C494.21 1178.05 480.68 1170.64 468.83 1163.45C456.99 1156.26 445.69 1146.6 435.84 1140.61C425.98 1134.62 414.06 1129.68 409.7 1127.5" stroke="#2a14f0" stroke-opacity="0.2"/>
<path d="M628.73 1247.21C623.23 1245.94 607.58 1242.55 595.74 1239.59C583.89 1236.63 570.36 1234.09 557.66 1229.44C544.97 1224.79 532.28 1218.87 519.59 1211.68C506.9 1204.48 493.37 1195.18 481.52 1186.29C469.68 1177.41 457.83 1166.41 448.53 1158.38C439.22 1150.34 432.16 1143.22 425.69 1138.07C419.21 1132.93 412.36 1129.26 409.7 1127.5" stroke="#2a14f0" stroke-opacity="0.35"/>
<path d="M506.9 1248.48C502.67 1245.73 489.98 1238.54 481.52 1231.98C473.06 1225.42 463.76 1217.6 456.14 1209.14C448.53 1200.68 441.34 1190.1 435.84 1181.22C430.34 1172.34 427.5 1164.79 423.15 1155.84C418.79 1146.88 411.94 1132.22 409.7 1127.5" stroke="#2a14f0" stroke-opacity="0.35"/>
<path d="M610.96 1314.47C604.2 1311.29 583.47 1301.57 570.36 1295.43C557.24 1289.3 543.71 1283.59 532.28 1277.66C520.86 1271.74 511.56 1267.09 501.83 1259.9C492.1 1252.71 482.79 1244.25 473.91 1234.52C465.03 1224.79 455.72 1212.1 448.53 1201.52C441.34 1190.95 435.84 1180.37 430.76 1171.07C425.69 1161.76 421.58 1152.95 418.07 1145.69C414.56 1138.42 411.1 1130.53 409.7 1127.5" stroke="#ff3358" stroke-opacity="0.22"/>
<path d="M522.13 1315.74C517.48 1312.35 503.94 1303.47 494.21 1295.43C484.48 1287.39 472.64 1277.66 463.76 1267.51C454.87 1257.36 447.26 1245.52 440.91 1234.52C434.57 1223.52 429.49 1212.1 425.69 1201.52C421.88 1190.95 420.19 1180.37 418.07 1171.07C415.96 1161.76 414.39 1152.95 412.99 1145.69C411.6 1138.42 410.25 1130.53 409.7 1127.5" stroke="#ff3358" stroke-opacity="0.4"/>
<path d="M514.52 1391.88C510.29 1386.38 498.02 1370.3 489.14 1358.88C480.25 1347.46 469.68 1334.77 461.22 1323.35C452.76 1311.93 444.72 1302.2 438.38 1290.36C432.03 1278.51 426.95 1264.97 423.15 1252.28C419.34 1239.59 417.23 1226.9 415.53 1214.21C413.84 1201.52 413.63 1187.56 412.99 1176.14C412.36 1164.72 412.28 1153.79 411.73 1145.69C411.18 1137.58 410.04 1130.53 409.7 1127.5" stroke="#2a14f0" stroke-opacity="0.35"/>
<path d="M698.53 1149.49C697.13 1151.82 691.72 1158.16 690.15 1163.45C688.59 1168.74 688.59 1175.51 689.14 1181.22C689.69 1186.93 692.73 1194.97 693.45 1197.72" stroke="#ff3358" stroke-opacity="0.18"/>
</g>
<circle cx="409.7" cy="1127.5" r="4.4" fill="#fff"/>
<g font-family='"Liberation Serif", serif' font-weight="bold" font-size="15" letter-spacing="0.45" text-anchor="middle" fill="#0a0a0a">
<text x="374.66" y="848.65">BRD4</text>
<text x="487.01" y="857.56">KU80</text>
<text x="257.86" y="880.33">MSH2</text>
<text x="570.16" y="898.14">EIF4G</text>
<text x="449.89" y="915.96">ASNS</text>
<text x="325.17" y="923.39">ACVRL1</text>
<text x="186.59" y="946.15">BAP1C4</text>
<text x="646.37" y="963.97">RB_pS807S811</text>
<text x="558.28" y="977.83">CD26</text>
<text x="388.52" y="990.2">BAK</text>
<text x="257.86" y="999.6">DUSP4</text>
<text x="148.97" y="1022.37">RICTOR_pT1135</text>
<text x="703.29" y="1041.67">GAPDH</text>
<text x="525.61" y="1051.57">PAI1</text>
<text x="638.95" y="1078.79">CHK2</text>
<text x="235.09" y="1082.75">SMAD1</text>
<text x="111.36" y="1098.1">IGFBP2</text>
<text x="409.8" y="1132.74">TGM2</text>
<text x="701.31" y="1146.1">ACC_pS79</text>
<text x="185.6" y="1151.55">IGF1R_pY1135Y1136</text>
<text x="574.12" y="1165.9">PREX1</text>
<text x="108.88" y="1201.04">RAD50</text>
<text x="691.41" y="1209.95">X4EBP1</text>
<text x="297.95" y="1213.41">MEK1_pS217S221</text>
<text x="189.56" y="1241.13">P38MAPK</text>
<text x="633.51" y="1258.95">PI3KP110ALPHA</text>
<text x="511.26" y="1260.93">TFRC</text>
<text x="280.13" y="1298.05">MIG6</text>
<text x="392.48" y="1302.01">P16INK4A</text>
<text x="174.21" y="1320.32">EPPK1</text>
<text x="616.18" y="1327.74">CD31</text>
<text x="524.62" y="1330.22">TRANSGLUTAMI0SE</text>
<text x="271.71" y="1369.81">PDL1</text>
<text x="431.08" y="1380.7">INPP4B</text>
<text x="349.91" y="1402.97">FOXM1</text>
<text x="518.19" y="1405.94">MSH6</text>
</g>
<rect x="283.1" y="1474.4" width="245.6" height="60.3" fill="url(#spg)"/>
<text x="406.2" y="1472.8" font-size="19.4" font-family='"Liberation Sans", sans-serif' fill="#000" text-anchor="middle" font-weight="bold">Spearman's correlation</text>
<g font-family='"Liberation Sans", sans-serif' font-size="14.5" text-anchor="middle" fill="#222">
<text x="284" y="1567">1</text>
<text x="345.3" y="1567">0.5</text>
<text x="406.2" y="1567">0</text>
<text x="467.5" y="1567">−0.5</text>
<text x="527.4" y="1567">−1</text>
</g>
</g>
<g id="panelC">
<text x="871.5" y="884.3" font-size="26.7" font-family='"DejaVu Sans", "Liberation Sans", sans-serif' fill="#3c3c3c" textLength="767.5" lengthAdjust="spacingAndGlyphs">Expression level of TGM2 in Lung squamous cell carcinoma</text>
<path d="M912.7 930V1440.4M899 1440.4H1686.5" stroke="#222" stroke-width="1.6" fill="none"/>
<path d="M898.5 938.5H912.7M898.5 1009.7H912.7M898.5 1082.4H912.7M898.5 1153.8H912.7M898.5 1225.2H912.7M898.5 1296.2H912.7M898.5 1368.9H912.7M898.5 1439.6H912.7" stroke="#333" stroke-width="1.4" fill="none"/>
<path d="M912.7 1441V1454.5M1170.3 1441V1454.5M1427.6 1441V1454.5M1686 1441V1454.5" stroke="#d4d6e4" stroke-width="1.3" fill="none"/>
<g font-family='"Liberation Sans", sans-serif' font-size="23" text-anchor="end" fill="#636363">
<text x="890.6" y="948.8">4</text>
<text x="890.6" y="1020.35">3</text>
<text x="890.6" y="1091.9">2</text>
<text x="890.6" y="1163.45">1</text>
<text x="890.6" y="1235">0</text>
<text x="890.6" y="1306.55">-1</text>
<text x="890.6" y="1378.1">-2</text>
<text x="890.6" y="1449.65">-3</text>
</g>
<text transform="translate(852.6 1184.5) rotate(-90)" font-family='"DejaVu Sans", "Liberation Sans", sans-serif' font-weight="bold" font-size="21.5" text-anchor="middle" fill="#111" textLength="89.5" lengthAdjust="spacingAndGlyphs">Z–value</text>
<g stroke="#000" fill="none">
<rect x="979" y="1002.4" width="125.6" height="53.9" fill="none" stroke="#000" stroke-width="1.7"/>
<line x1="979" y1="1026.8" x2="1104.6" y2="1026.8" stroke="#000" stroke-width="3.6"/>
<path d="M1011.1 932.8H1072.6M1011.1 1138.2H1072.6" stroke-width="1.7"/>
<path d="M1041.5 932.8V1002.4M1041.5 1056.3V1138.2" stroke-width="1.7" stroke-dasharray="5.6 3.4"/>
</g>
<g fill="#4a5fdc" stroke="#2a3aa8" stroke-width="0.6"><circle cx="1047.99" cy="931.32" r="4.4"/><circle cx="1089.75" cy="936.27" r="4.4"/><circle cx="1003.58" cy="942.61" r="4.4"/><circle cx="1055.36" cy="948.96" r="4.4"/><circle cx="1064.49" cy="955.05" r="4.4"/><circle cx="1073.25" cy="963.93" r="4.4"/><circle cx="1074.77" cy="966.47" r="4.4"/><circle cx="1088.1" cy="959.87" r="4.4"/><circle cx="1100.15" cy="972.56" r="4.4"/><circle cx="1021.35" cy="978.91" r="4.4"/><circle cx="1039.11" cy="977.39" r="4.4"/><circle cx="1083.65" cy="985.25" r="4.4"/><circle cx="1008.27" cy="989.95" r="4.4"/><circle cx="1012.97" cy="991.85" r="4.4"/><circle cx="1015.51" cy="996.29" r="4.4"/><circle cx="1015.51" cy="999.47" r="4.4"/><circle cx="981.24" cy="994.64" r="4.4"/><circle cx="997.74" cy="997.82" r="4.4"/><circle cx="1002.18" cy="1002.64" r="4.4"/><circle cx="1037.46" cy="997.56" r="4.4"/><circle cx="1034.54" cy="1003.27" r="4.4"/><circle cx="1058.02" cy="996.04" r="4.4"/><circle cx="1055.23" cy="999.47" r="4.4"/><circle cx="1088.1" cy="1000.99" r="4.4"/><circle cx="1099.9" cy="1004.29" r="4.4"/><circle cx="1077.69" cy="1006.45" r="4.4"/><circle cx="1080.23" cy="1008.98" r="4.4"/><circle cx="1073.25" cy="1011.52" r="4.4"/><circle cx="1076.04" cy="1015.33" r="4.4"/><circle cx="1076.04" cy="1019.77" r="4.4"/><circle cx="1067.54" cy="1018.5" r="4.4"/><circle cx="982.51" cy="1012.16" r="4.4"/><circle cx="991.4" cy="1010.89" r="4.4"/><circle cx="993.93" cy="1012.16" r="4.4"/><circle cx="988.86" cy="1017.23" r="4.4"/><circle cx="1002.18" cy="1009.62" r="4.4"/><circle cx="1002.18" cy="1012.79" r="4.4"/><circle cx="1002.18" cy="1019.14" r="4.4"/><circle cx="1003.45" cy="1024.21" r="4.4"/><circle cx="1010.69" cy="1021.04" r="4.4"/><circle cx="979.97" cy="1023.2" r="4.4"/><circle cx="1034.54" cy="1012.16" r="4.4"/><circle cx="1039.11" cy="1015.33" r="4.4"/><circle cx="1051.04" cy="1018.5" r="4.4"/><circle cx="1051.04" cy="1024.85" r="4.4"/><circle cx="1059.67" cy="1026.5" r="4.4"/><circle cx="1065.63" cy="1026.5" r="4.4"/><circle cx="993.3" cy="1028.27" r="4.4"/><circle cx="996.22" cy="1035.63" r="4.4"/><circle cx="994.57" cy="1039.44" r="4.4"/><circle cx="988.22" cy="1042.36" r="4.4"/><circle cx="1039.11" cy="1034.37" r="4.4"/><circle cx="1039.11" cy="1042.36" r="4.4"/><circle cx="1047.99" cy="1043.63" r="4.4"/><circle cx="1086.57" cy="1028.27" r="4.4"/><circle cx="1091.02" cy="1034.37" r="4.4"/><circle cx="1088.48" cy="1035.63" r="4.4"/><circle cx="1082.13" cy="1040.71" r="4.4"/><circle cx="1074.52" cy="1038.81" r="4.4"/><circle cx="1076.42" cy="1043.25" r="4.4"/><circle cx="1077.69" cy="1051.5" r="4.4"/><circle cx="1070.33" cy="1054.67" r="4.4"/><circle cx="1056.88" cy="1053.4" r="4.4"/><circle cx="1046.35" cy="1053.4" r="4.4"/><circle cx="994.57" cy="1051.5" r="4.4"/><circle cx="1005.36" cy="1051.5" r="4.4"/><circle cx="1011.07" cy="1048.32" r="4.4"/><circle cx="1010.69" cy="1054.67" r="4.4"/><circle cx="1096.98" cy="1054.42" r="4.4"/><circle cx="1101.42" cy="1061.02" r="4.4"/><circle cx="1098.63" cy="1067.36" r="4.4"/><circle cx="1093.93" cy="1072.44" r="4.4"/><circle cx="1080.48" cy="1068.63" r="4.4"/><circle cx="1045.08" cy="1062.92" r="4.4"/><circle cx="983.78" cy="1062.92" r="4.4"/><circle cx="988.6" cy="1062.92" r="4.4"/><circle cx="985.69" cy="1071.17" r="4.4"/><circle cx="993.05" cy="1077.13" r="4.4"/><circle cx="1003.45" cy="1081.7" r="4.4"/><circle cx="1013.98" cy="1072.18" r="4.4"/><circle cx="1025.91" cy="1073.71" r="4.4"/><circle cx="1030.23" cy="1081.95" r="4.4"/><circle cx="1034.92" cy="1091.47" r="4.4"/><circle cx="1040.25" cy="1095.28" r="4.4"/><circle cx="1062.84" cy="1088.3" r="4.4"/><circle cx="1061.19" cy="1099.09" r="4.4"/><circle cx="1064.49" cy="1105.43" r="4.4"/><circle cx="1013.98" cy="1100.74" r="4.4"/><circle cx="1006.12" cy="1103.91" r="4.4"/><circle cx="1009.54" cy="1122.94" r="4.4"/><circle cx="1021.35" cy="1122.94" r="4.4"/><circle cx="1011.07" cy="1137.16" r="4.4"/><circle cx="1088.1" cy="1137.16" r="4.4"/></g>
<g stroke="#000" fill="none">
<rect x="1237.4" y="1180.9" width="125" height="90.3" fill="none" stroke="#000" stroke-width="1.7"/>
<line x1="1237.4" y1="1231" x2="1362.4" y2="1231" stroke="#000" stroke-width="3.6"/>
<path d="M1269.2 1067H1330.7M1269.2 1307.5H1330.7" stroke-width="1.7"/>
<path d="M1299.9 1067V1180.9M1299.9 1271.2V1307.5" stroke-width="1.7" stroke-dasharray="5.6 3.4"/>
</g>
<g fill="#f08418" stroke="#9a5a10" stroke-width="0.6"><circle cx="1331.6" cy="1066.02" r="4.4"/><circle cx="1319.54" cy="1124.39" r="4.4"/><circle cx="1261.8" cy="1130.86" r="4.4"/><circle cx="1240.86" cy="1134.04" r="4.4"/><circle cx="1245.43" cy="1141.9" r="4.4"/><circle cx="1267.89" cy="1148.12" r="4.4"/><circle cx="1270.81" cy="1148.38" r="4.4"/><circle cx="1323.98" cy="1145.08" r="4.4"/><circle cx="1292.77" cy="1160.81" r="4.4"/><circle cx="1258.38" cy="1167.16" r="4.4"/><circle cx="1263.07" cy="1174.9" r="4.4"/><circle cx="1318.02" cy="1170.33" r="4.4"/><circle cx="1344.67" cy="1173.38" r="4.4"/><circle cx="1236.42" cy="1180.99" r="4.4"/><circle cx="1239.34" cy="1187.59" r="4.4"/><circle cx="1260.28" cy="1198.76" r="4.4"/><circle cx="1248.35" cy="1201.93" r="4.4"/><circle cx="1356.73" cy="1198.76" r="4.4"/><circle cx="1357.99" cy="1203.71" r="4.4"/><circle cx="1346.32" cy="1204.97" r="4.4"/><circle cx="1329.82" cy="1220.96" r="4.4"/><circle cx="1346.32" cy="1224.01" r="4.4"/><circle cx="1273.6" cy="1225.66" r="4.4"/><circle cx="1308.88" cy="1225.66" r="4.4"/><circle cx="1308.88" cy="1229.09" r="4.4"/><circle cx="1252.79" cy="1229.09" r="4.4"/><circle cx="1263.07" cy="1232.26" r="4.4"/><circle cx="1239.34" cy="1240" r="4.4"/><circle cx="1313.58" cy="1238.35" r="4.4"/><circle cx="1321.19" cy="1243.05" r="4.4"/><circle cx="1297.21" cy="1246.47" r="4.4"/><circle cx="1335.79" cy="1246.47" r="4.4"/><circle cx="1357.99" cy="1249.39" r="4.4"/><circle cx="1252.79" cy="1254.34" r="4.4"/><circle cx="1243.78" cy="1263.98" r="4.4"/><circle cx="1270.81" cy="1264.62" r="4.4"/><circle cx="1267.89" cy="1268.43" r="4.4"/><circle cx="1306.09" cy="1269.95" r="4.4"/><circle cx="1321.19" cy="1271.6" r="4.4"/><circle cx="1332.87" cy="1271.22" r="4.4"/><circle cx="1334.52" cy="1273.25" r="4.4"/><circle cx="1355.08" cy="1271.85" r="4.4"/><circle cx="1295.81" cy="1275.15" r="4.4"/><circle cx="1251.14" cy="1282.77" r="4.4"/><circle cx="1313.58" cy="1284.29" r="4.4"/><circle cx="1326.9" cy="1282.64" r="4.4"/><circle cx="1333.25" cy="1284.29" r="4.4"/><circle cx="1341.88" cy="1281.12" r="4.4"/><circle cx="1334.52" cy="1287.46" r="4.4"/><circle cx="1293.02" cy="1307.77" r="4.4"/><circle cx="1297.72" cy="1307.77" r="4.4"/><circle cx="1338.96" cy="1306.24" r="4.4"/></g>
<g stroke="#000" fill="none">
<rect x="1494.1" y="1147.6" width="124.9" height="113.9" fill="none" stroke="#000" stroke-width="1.7"/>
<line x1="1494.1" y1="1213.3" x2="1619" y2="1213.3" stroke="#000" stroke-width="3.6"/>
<path d="M1525.7 975.5H1587.4M1525.7 1325.2H1587.4" stroke-width="1.7"/>
<path d="M1556.6 975.5V1147.6M1556.6 1261.5V1325.2" stroke-width="1.7" stroke-dasharray="5.6 3.4"/>
</g>
<g fill="#10d23c" stroke="#0c8a28" stroke-width="0.6"><circle cx="1579.28" cy="975.47" r="4.4"/><circle cx="1551.05" cy="1009.04" r="4.4"/><circle cx="1497.69" cy="1015.4" r="4.4"/><circle cx="1598.55" cy="1050" r="4.4"/><circle cx="1499.07" cy="1107.14" r="4.4"/><circle cx="1516.97" cy="1107.14" r="4.4"/><circle cx="1577.9" cy="1122.63" r="4.4"/><circle cx="1588.23" cy="1120.91" r="4.4"/><circle cx="1591.33" cy="1122.63" r="4.4"/><circle cx="1510.95" cy="1133.82" r="4.4"/><circle cx="1497.69" cy="1140.19" r="4.4"/><circle cx="1571.7" cy="1138.64" r="4.4"/><circle cx="1506.47" cy="1146.39" r="4.4"/><circle cx="1521.45" cy="1146.73" r="4.4"/><circle cx="1525.75" cy="1146.73" r="4.4"/><circle cx="1603.03" cy="1145.01" r="4.4"/><circle cx="1551.05" cy="1154.65" r="4.4"/><circle cx="1502.17" cy="1179.78" r="4.4"/><circle cx="1555.52" cy="1176.68" r="4.4"/><circle cx="1588.23" cy="1179.78" r="4.4"/><circle cx="1571.7" cy="1192.69" r="4.4"/><circle cx="1530.05" cy="1195.44" r="4.4"/><circle cx="1592.53" cy="1198.71" r="4.4"/><circle cx="1582.38" cy="1200.43" r="4.4"/><circle cx="1585.3" cy="1202.15" r="4.4"/><circle cx="1567.4" cy="1203.53" r="4.4"/><circle cx="1614.91" cy="1200.43" r="4.4"/><circle cx="1515.42" cy="1212.99" r="4.4"/><circle cx="1562.93" cy="1213.34" r="4.4"/><circle cx="1509.57" cy="1222.81" r="4.4"/><circle cx="1527.47" cy="1224.18" r="4.4"/><circle cx="1597.01" cy="1221.43" r="4.4"/><circle cx="1576.18" cy="1225.9" r="4.4"/><circle cx="1589.6" cy="1225.9" r="4.4"/><circle cx="1521.45" cy="1238.3" r="4.4"/><circle cx="1592.53" cy="1242.6" r="4.4"/><circle cx="1589.6" cy="1246.04" r="4.4"/><circle cx="1613.7" cy="1243.12" r="4.4"/><circle cx="1508.19" cy="1255.85" r="4.4"/><circle cx="1552.43" cy="1258.95" r="4.4"/><circle cx="1614.91" cy="1255.85" r="4.4"/><circle cx="1604.23" cy="1260.67" r="4.4"/><circle cx="1614.91" cy="1267.04" r="4.4"/><circle cx="1519.9" cy="1268.42" r="4.4"/><circle cx="1601.65" cy="1271.51" r="4.4"/><circle cx="1503.55" cy="1276.33" r="4.4"/><circle cx="1510.95" cy="1281.33" r="4.4"/><circle cx="1525.75" cy="1279.78" r="4.4"/><circle cx="1579.1" cy="1280.98" r="4.4"/><circle cx="1549.5" cy="1292" r="4.4"/><circle cx="1528.85" cy="1296.3" r="4.4"/><circle cx="1528.85" cy="1299.4" r="4.4"/><circle cx="1553.98" cy="1303.7" r="4.4"/><circle cx="1525.75" cy="1308.35" r="4.4"/><circle cx="1494.6" cy="1312.65" r="4.4"/><circle cx="1567.4" cy="1323.49" r="4.4"/></g>
<circle cx="1069" cy="1246.5" r="4.4" fill="#4a5fdc" stroke="#2a3aa8" stroke-width="0.6"/>
<g font-family='"DejaVu Sans", "Liberation Sans", sans-serif' font-size="16.6" text-anchor="middle" fill="#7a7a7a" lengthAdjust="spacingAndGlyphs">
<text x="1041.5" y="1469.3" textLength="56.7" lengthAdjust="spacingAndGlyphs">Normal</text>
<text x="1041.5" y="1491.3" textLength="64.2" lengthAdjust="spacingAndGlyphs">(n=102)</text>
<text x="1299.2" y="1469.3" textLength="164.2" lengthAdjust="spacingAndGlyphs">RTK Pathway-altered</text>
<text x="1299.2" y="1491.3" textLength="53.6" lengthAdjust="spacingAndGlyphs">(n=52)</text>
<text x="1557" y="1469.3" textLength="53" lengthAdjust="spacingAndGlyphs">Others</text>
<text x="1557" y="1491.3" textLength="53.6" lengthAdjust="spacingAndGlyphs">(n=56)</text>
</g>
<text x="1299.2" y="1524.6" font-size="16.8" font-family='"DejaVu Sans", "Liberation Sans", sans-serif' fill="#000" text-anchor="middle" font-weight="bold" textLength="128.4" lengthAdjust="spacingAndGlyphs">CPTAC samples</text>
<path d="M928 1293.5 Q930 1289.5 940 1289.6 L985 1290 Q1010 1290.5 1030 1293.5Z" fill="#d2e6b4"/>
<rect x="926.4" y="1293.7" width="305.1" height="34.8" fill="#c8f2fc"/>
<rect x="926.4" y="1328.5" width="305.1" height="103.5" fill="#dcf7fd"/>
<path d="M926.4 1293.7H1231.5V1432H926.4ZM926.4 1328.5H1231.5M926.4 1362.9H1231.5M926.4 1397.5H1231.5M1074 1293.7V1432" stroke="#7a9aa6" stroke-width="1" fill="none"/>
<g font-family='"Liberation Sans", sans-serif' font-size="11.4" text-anchor="middle" lengthAdjust="spacingAndGlyphs">
<text x="1000" y="1315.4" font-weight="bold" fill="#3a5a68" textLength="57" lengthAdjust="spacingAndGlyphs">Comparison</text>
<text x="1152.7" y="1315.4" font-weight="bold" fill="#3a5a68" textLength="105.7" lengthAdjust="spacingAndGlyphs">Statistical significance</text>
<text x="1000.3" y="1344.3" font-weight="bold" fill="#c8643c" textLength="112.9" lengthAdjust="spacingAndGlyphs">Normal-vs-RTK pathway</text>
<text x="1000" y="1355.2" font-weight="bold" fill="#c8643c" textLength="31.8" lengthAdjust="spacingAndGlyphs">altered</text>
<text x="1152.7" y="1349.8" font-weight="bold" fill="#c8643c" textLength="104.7" lengthAdjust="spacingAndGlyphs">4.50041192029426E-36</text>
<text x="1000" y="1384.2" font-weight="bold" fill="#c8643c" textLength="82.3" lengthAdjust="spacingAndGlyphs">Normal-vs-Others</text>
<text x="1152.7" y="1384.2" font-weight="bold" fill="#c8643c" textLength="104.7" lengthAdjust="spacingAndGlyphs">7.34671060625282E-24</text>
<text x="1000" y="1418.9" font-weight="normal" fill="#2a3a40" textLength="136.7" lengthAdjust="spacingAndGlyphs">RTK pathway altered-vs-Others</text>
<text x="1152.7" y="1418.9" font-weight="normal" fill="#2a3a40" textLength="60.7" lengthAdjust="spacingAndGlyphs">1.080871E-01</text>
</g>
</g>
<g id="panelD">
<defs><filter id="bl1_5" x="-50%" y="-100%" width="200%" height="300%" color-interpolation-filters="sRGB"><feGaussianBlur stdDeviation="1.5"/></filter><filter id="bl2" x="-50%" y="-100%" width="200%" height="300%" color-interpolation-filters="sRGB"><feGaussianBlur stdDeviation="2"/></filter><filter id="bl3" x="-50%" y="-100%" width="200%" height="300%" color-interpolation-filters="sRGB"><feGaussianBlur stdDeviation="3"/></filter><filter id="bl4_5" x="-50%" y="-100%" width="200%" height="300%" color-interpolation-filters="sRGB"><feGaussianBlur stdDeviation="4.5"/></filter></defs>
<g font-family='"Liberation Sans", sans-serif' font-weight="bold" font-size="24.5" text-anchor="end" fill="#0a0a0a">
<text x="365.3" y="1610.3">NCI-H520</text>
<text x="365.3" y="1655">Vector</text>
<text x="365.3" y="1698.5">TGM2-OE</text>
<text x="352.3" y="1753.2">TGM2</text>
<text x="352.3" y="1806">Phospho-p38</text>
<text x="352.3" y="1836">MAPK(T180/Y182)</text>
<text x="352.3" y="1901.3">p38 MAPK</text>
<text x="351.5" y="1965.7">GAPDH</text>
</g>
<g font-family='"Liberation Sans", sans-serif' font-size="22.5" text-anchor="middle" fill="#111" stroke="#111" stroke-width="0.3">
<text x="397.7" y="1610.6">+</text>
<text x="463.3" y="1610.6">+</text>
<text x="528.7" y="1610.6">+</text>
<text x="397.7" y="1655">-</text>
<text x="463.3" y="1655">+</text>
<text x="528.7" y="1655">-</text>
<text x="397.7" y="1699.6">-</text>
<text x="463.3" y="1699.6">-</text>
<text x="528.7" y="1699.6">+</text>
</g>
<clipPath id="d1c"><rect x="363.4" y="1712.8" width="197.5" height="65.5"/></clipPath>
<g clip-path="url(#d1c)">
<rect x="363.4" y="1712.8" width="197.5" height="65.5" fill="#d2d2d2"/>
<g filter="url(#bl3)"><ellipse cx="394" cy="1751" rx="17" ry="3.5" fill="#c9c9c9"/><ellipse cx="452" cy="1754" rx="17" ry="3.5" fill="#c3c3c3"/></g>
<g filter="url(#bl4_5)"><ellipse cx="516" cy="1744.5" rx="39.5" ry="31" fill="#141414"/></g>
</g>
<rect x="363.4" y="1712.8" width="197.5" height="65.5" fill="none" stroke="#2e2e2e" stroke-width="1.3"/>
<clipPath id="d2c"><rect x="363.4" y="1786" width="197.5" height="64.3"/></clipPath>
<g clip-path="url(#d2c)">
<rect x="363.4" y="1786" width="197.5" height="64.3" fill="#d2d2d2"/>
<g filter="url(#bl1_5)"><g><rect x="380.24" y="1816" width="30.03" height="5.6" fill="#484848"/><ellipse cx="380.24" cy="1818.8" rx="7.74" ry="4.1" fill="#2c2c2c"/><ellipse cx="410.26" cy="1818.8" rx="7.74" ry="4.1" fill="#2c2c2c"/></g><g transform="rotate(1.8 460 1819.8)"><rect x="444.82" y="1816.9" width="30.36" height="5.8" fill="#2a2a2a"/><ellipse cx="444.82" cy="1819.8" rx="7.82" ry="4.4" fill="#0c0c0c"/><ellipse cx="475.18" cy="1819.8" rx="7.82" ry="4.4" fill="#0c0c0c"/></g></g>
<g filter="url(#bl2)"><rect x="495" y="1809.55" width="60" height="19.5" rx="9.75" fill="#000" transform="rotate(-1.5 525 1819.3)"/><ellipse cx="532" cy="1818" rx="23" ry="10.6" fill="#000"/></g>
</g>
<rect x="363.4" y="1786" width="197.5" height="64.3" fill="none" stroke="#2e2e2e" stroke-width="1.3"/>
<clipPath id="d3c"><rect x="363.4" y="1857.7" width="197.5" height="65.6"/></clipPath>
<g clip-path="url(#d3c)">
<rect x="363.4" y="1857.7" width="197.5" height="65.6" fill="#d2d2d2"/>
<g filter="url(#bl2)"><rect x="370" y="1881.3" width="56.5" height="15" rx="7.5" fill="#000"/><rect x="437.5" y="1880.9" width="52.3" height="15" rx="7.5" fill="#000" transform="rotate(1 463.65 1888.4)"/><g><rect x="512.5" y="1882.8" width="29" height="9.2" fill="#080808"/><ellipse cx="512.5" cy="1887.4" rx="12" ry="6.3" fill="#030303"/><ellipse cx="541.5" cy="1887.4" rx="12" ry="6.3" fill="#030303"/></g></g>
</g>
<rect x="363.4" y="1857.7" width="197.5" height="65.6" fill="none" stroke="#2e2e2e" stroke-width="1.3"/>
<clipPath id="d4c"><rect x="363.4" y="1928.6" width="197.5" height="65.3"/></clipPath>
<g clip-path="url(#d4c)">
<rect x="363.4" y="1928.6" width="197.5" height="65.3" fill="#d2d2d2"/>
<g filter="url(#bl3)"><rect x="420" y="1953" width="90" height="15" fill="#5a5a5a"/></g>
<g filter="url(#bl3)"><rect x="371.5" y="1949.45" width="60.5" height="24.5" rx="12.25" fill="#101010"/><rect x="434" y="1949" width="59" height="24" rx="12" fill="#101010"/><rect x="498" y="1947.35" width="58.5" height="24.5" rx="12.25" fill="#101010"/></g>
</g>
<rect x="363.4" y="1928.6" width="197.5" height="65.3" fill="none" stroke="#2e2e2e" stroke-width="1.3"/>
<g font-family='"Liberation Sans", sans-serif' font-size="24.4" fill="#0a0a0a">
<text x="571.2" y="1752.2">—77kDa</text>
<text x="571.2" y="1818.9">—42kDa</text>
<text x="571.2" y="1899.5">—42kDa</text>
<text x="571.2" y="1957.8">—36kDa</text>
</g>
<path d="M918.3 1628.7V1994.1M910.3 1993.2H1374.6" stroke="#000" stroke-width="1.9" fill="none"/>
<path d="M910.3 1629.7H918.3M910.3 1702.4H918.3M910.3 1775.1H918.3M910.3 1847.8H918.3M910.3 1920.5H918.3M1026.2 1993.2V2000.8M1264.7 1993.2V2000.8" stroke="#000" stroke-width="1.9" fill="none"/>
<g font-family='"Liberation Sans", sans-serif' font-weight="bold" font-size="20.3" text-anchor="end" fill="#000">
<text x="908" y="1636.9">25</text>
<text x="908" y="1709.6">20</text>
<text x="908" y="1782.3">15</text>
<text x="908" y="1855">10</text>
<text x="908" y="1927.7">5</text>
<text x="908" y="2000.4">0</text>
</g>
<rect x="940.3" y="1978.66" width="43.1" height="13.94" fill="#0202fa"/>
<path d="M961.85 1978.66V1977.93M951.25 1977.93H972.45" stroke="#0202fa" stroke-width="1.9" fill="none"/>
<rect x="1005.1" y="1979.39" width="43.1" height="13.21" fill="#fa0505"/>
<path d="M1026.65 1979.39V1978.37M1016.05 1978.37H1037.25" stroke="#fa0505" stroke-width="1.9" fill="none"/>
<rect x="1070.3" y="1708.22" width="43.1" height="284.38" fill="#06c006"/>
<path d="M1091.85 1708.22V1706.04M1081.25 1706.04H1102.45" stroke="#06c006" stroke-width="1.9" fill="none"/>
<rect x="1178.8" y="1978.95" width="43.1" height="13.65" fill="#0202fa"/>
<path d="M1200.35 1978.95V1977.93M1189.75 1977.93H1210.95" stroke="#0202fa" stroke-width="1.9" fill="none"/>
<rect x="1243.3" y="1978.37" width="43.1" height="14.23" fill="#fa0505"/>
<path d="M1264.85 1978.37V1977.21M1254.25 1977.21H1275.45" stroke="#fa0505" stroke-width="1.9" fill="none"/>
<rect x="1308.4" y="1936.78" width="43.1" height="55.82" fill="#06c006"/>
<path d="M1329.95 1936.78V1932.57M1319.35 1932.57H1340.55" stroke="#06c006" stroke-width="1.9" fill="none"/>
<path d="M961.8 1659V1619.5H1092.2V1635.2" stroke="#000" stroke-width="1.9" fill="none"/>
<path d="M961.8 1962.3V1675.7H1021.7V1962.3" stroke="#000" stroke-width="1.9" fill="none"/>
<path d="M1031.6 1962.3V1675.7H1092.2V1690.4" stroke="#000" stroke-width="1.9" fill="none"/>
<path d="M1199.9 1659V1619.5H1330.3V1635.2" stroke="#000" stroke-width="1.9" fill="none"/>
<path d="M1199.9 1962.3V1675.7H1259.8V1962.3" stroke="#000" stroke-width="1.9" fill="none"/>
<path d="M1269.7 1962.3V1675.7H1330.3V1917" stroke="#000" stroke-width="1.9" fill="none"/>
<g font-family='"DejaVu Sans", "Liberation Sans", sans-serif' font-weight="bold" font-size="27" letter-spacing="0.9" text-anchor="middle" fill="#000">
<text x="1026.8" y="1615.3">****</text>
<text x="1061.9" y="1671.1">****</text>
<text x="1265.3" y="1615.3">****</text>
<text x="1300.4" y="1671.1">****</text>
</g>
<g font-family='"Liberation Sans", sans-serif' font-size="20" text-anchor="middle" fill="#111">
<text x="991.2" y="1662.6">ns</text>
<text x="1229.5" y="1662.6">ns</text>
</g>
<g font-family='"Liberation Sans", sans-serif' font-weight="bold" text-anchor="middle" fill="#000">
<text x="1026.2" y="2024.7" font-size="21.3">TGM2</text><text x="1263.5" y="2024.7" font-size="21.3">p-p38 MAPK/p38 MAPK</text>
<text transform="translate(848.8 1812.3) rotate(-90)" font-size="21.7">Relative intensity</text>
<text transform="translate(874.8 1812.3) rotate(-90)" font-size="21.7">(X/GAPDH)</text>
</g>
<g font-family='"Liberation Sans", sans-serif' font-size="21.3" fill="#111">
<rect x="1434.8" y="1664.1" width="26.8" height="12.8" fill="#0202fa"/>
<text x="1477.5" y="1678.1">NCI-H520</text>
<rect x="1434.8" y="1699.9" width="26.8" height="12.8" fill="#fa0505"/>
<text x="1477.5" y="1713.9">NCI-H520+Vector</text>
<rect x="1434.8" y="1735.2" width="26.8" height="12.8" fill="#06c006"/>
<text x="1477.5" y="1749.2">NCI-H520+TGM2-OE</text>
</g>
</g>
<g id="panelE">
<defs><filter id="bl2_5" x="-50%" y="-100%" width="200%" height="300%" color-interpolation-filters="sRGB"><feGaussianBlur stdDeviation="2.5"/></filter><filter id="bl6" x="-50%" y="-100%" width="200%" height="300%" color-interpolation-filters="sRGB"><feGaussianBlur stdDeviation="6"/></filter></defs>
<g font-family='"Liberation Sans", sans-serif' font-weight="bold" text-anchor="end" fill="#0a0a0a">
<text x="368.5" y="2076.6" font-size="24.3">SK-MES-1</text>
<text x="368.5" y="2121.1" font-size="24.3">NC</text>
<text x="368.5" y="2165.5" font-size="24.3">TGM2-siRNA1</text>
<text x="356.8" y="2219.6" font-size="24.35">TGM2</text>
<text x="356.8" y="2272.1" font-size="24.4">Phospho-p38</text>
<text x="356.8" y="2302.3" font-size="24.4">MAPK(T180/Y182)</text>
<text x="353.5" y="2367.6" font-size="24.3">p38 MAPK</text>
<text x="351" y="2436.4" font-size="24.3">GAPDH</text>
</g>
<g font-family='"Liberation Sans", sans-serif' font-size="22.5" text-anchor="middle" fill="#111" stroke="#111" stroke-width="0.3">
<text x="402.2" y="2076.1">+</text>
<text x="467.4" y="2076.1">+</text>
<text x="532.7" y="2076.1">+</text>
<text x="402.2" y="2120.6">-</text>
<text x="467.4" y="2120.6">+</text>
<text x="532.7" y="2120.6">-</text>
<text x="402.2" y="2164.6">-</text>
<text x="467.4" y="2164.6">-</text>
<text x="532.7" y="2164.6">+</text>
</g>
<clipPath id="e1c"><rect x="364.1" y="2180.4" width="196.5" height="65.2"/></clipPath>
<g clip-path="url(#e1c)">
<rect x="364.1" y="2180.4" width="196.5" height="65.2" fill="#cfcfcf"/>
<g filter="url(#bl6)"><rect x="360" y="2174" width="61" height="78" fill="#9e9e9e"/><rect x="438" y="2174" width="54" height="78" fill="#a6a6a6"/><rect x="504" y="2174" width="62" height="78" fill="#a8a8a8"/><ellipse cx="388" cy="2193" rx="20" ry="9" fill="#808080"/><ellipse cx="392" cy="2243" rx="26" ry="9" fill="#808080"/><ellipse cx="462" cy="2244" rx="24" ry="9" fill="#7e7e7e"/><ellipse cx="530" cy="2190" rx="28" ry="8" fill="#939393"/><ellipse cx="548" cy="2225" rx="14" ry="20" fill="#969696"/></g>
<g filter="url(#bl3)"><rect x="369.5" y="2210.3" width="50.5" height="13" rx="6.5" fill="#303030" transform="rotate(1 394.75 2216.8)"/><rect x="436" y="2211.45" width="51" height="13.5" rx="6.75" fill="#2a2a2a"/><rect x="507" y="2209.8" width="49" height="8" rx="4" fill="#686868" transform="rotate(2 531.5 2213.8)"/></g>
</g>
<rect x="364.1" y="2180.4" width="196.5" height="65.2" fill="none" stroke="#2e2e2e" stroke-width="1.3"/>
<clipPath id="e2c"><rect x="364.1" y="2251.8" width="196.5" height="64"/></clipPath>
<g clip-path="url(#e2c)">
<rect x="364.1" y="2251.8" width="196.5" height="64" fill="#d2d2d2"/>
<g filter="url(#bl2_5)"><rect x="372" y="2275.1" width="55.5" height="17.2" rx="8.6" fill="#000"/><rect x="439" y="2274.1" width="55.5" height="17.8" rx="8.9" fill="#000"/><g><rect x="515.4" y="2278.8" width="30.69" height="7" fill="#2c2c2c"/><ellipse cx="515.4" cy="2282.3" rx="7.91" ry="4.8" fill="#181818"/><ellipse cx="546.1" cy="2282.3" rx="7.91" ry="4.8" fill="#181818"/></g></g>
</g>
<rect x="364.1" y="2251.8" width="196.5" height="64" fill="none" stroke="#2e2e2e" stroke-width="1.3"/>
<clipPath id="e3c"><rect x="364.1" y="2322.7" width="196.5" height="65.3"/></clipPath>
<g clip-path="url(#e3c)">
<rect x="364.1" y="2322.7" width="196.5" height="65.3" fill="#d2d2d2"/>
<g filter="url(#bl2_5)"><rect x="371" y="2346.1" width="57" height="13.8" rx="6.9" fill="#0a0a0a"/><rect x="437.5" y="2347.9" width="53" height="13.4" rx="6.7" fill="#0a0a0a" transform="rotate(2 464 2354.6)"/><g><rect x="513" y="2348.7" width="28" height="8.6" fill="#141414"/><ellipse cx="513" cy="2353" rx="12" ry="5.7" fill="#0c0c0c"/><ellipse cx="541" cy="2353" rx="12" ry="5.7" fill="#0c0c0c"/></g></g>
</g>
<rect x="364.1" y="2322.7" width="196.5" height="65.3" fill="none" stroke="#2e2e2e" stroke-width="1.3"/>
<clipPath id="e4c"><rect x="363" y="2394.6" width="196.9" height="63.8"/></clipPath>
<g clip-path="url(#e4c)">
<rect x="363" y="2394.6" width="196.9" height="63.8" fill="#d2d2d2"/>
<g filter="url(#bl2_5)"><rect x="370.5" y="2416.5" width="58" height="19" rx="9.5" fill="#0c0c0c"/><rect x="437" y="2416.4" width="55.5" height="18.4" rx="9.2" fill="#0c0c0c"/><rect x="499.5" y="2414.8" width="55" height="19.6" rx="9.8" fill="#080808" transform="rotate(-1.5 527 2424.6)"/></g>
</g>
<rect x="363" y="2394.6" width="196.9" height="63.8" fill="none" stroke="#2e2e2e" stroke-width="1.3"/>
<g font-family='"Liberation Sans", sans-serif' font-size="24.4" fill="#0a0a0a">
<text x="575.3" y="2217.8">—77kDa</text>
<text x="575.3" y="2284">—42kDa</text>
<text x="575.3" y="2365">—42kDa</text>
<text x="575.3" y="2434.8">—36kDa</text>
</g>
<path d="M916.8 2112.45V2460.1M909.4 2459.2H1348.2" stroke="#000" stroke-width="1.9" fill="none"/>
<path d="M909.4 2113.45H916.8M909.4 2228.7H916.8M909.4 2343.95H916.8M1018.7 2459.2V2466.8M1244.3 2459.2V2466.8" stroke="#000" stroke-width="1.9" fill="none"/>
<g font-family='"Liberation Sans", sans-serif' font-weight="bold" font-size="19.3" text-anchor="end" fill="#000">
<text x="907.4" y="2120.45">1.5</text>
<text x="907.4" y="2235.7">1.0</text>
<text x="907.4" y="2350.95">0.5</text>
<text x="907.4" y="2466.2">0.0</text>
</g>
<rect x="937.8" y="2229.85" width="40.6" height="228.75" fill="#0202fa"/>
<path d="M958.1 2229.85V2196.43M947.9 2196.43H968.3" stroke="#0202fa" stroke-width="1.9" fill="none"/>
<rect x="999.2" y="2226.39" width="40.6" height="232.2" fill="#fa0505"/>
<path d="M1019.5 2226.39V2189.98M1009.3 2189.98H1029.7" stroke="#fa0505" stroke-width="1.9" fill="none"/>
<rect x="1060.4" y="2378.06" width="40.6" height="80.54" fill="#06c006"/>
<path d="M1080.7 2378.06V2375.07M1070.5 2375.07H1090.9" stroke="#06c006" stroke-width="1.9" fill="none"/>
<rect x="1162.7" y="2228.24" width="40.6" height="230.36" fill="#0202fa"/>
<path d="M1183 2228.24V2212.33M1172.8 2212.33H1193.2" stroke="#0202fa" stroke-width="1.9" fill="none"/>
<rect x="1224.1" y="2201.27" width="40.6" height="257.33" fill="#fa0505"/>
<path d="M1244.4 2201.27V2182.6M1234.2 2182.6H1254.6" stroke="#fa0505" stroke-width="1.9" fill="none"/>
<rect x="1285.6" y="2327.12" width="40.6" height="131.48" fill="#06c006"/>
<path d="M1305.9 2327.12V2315.6M1295.7 2315.6H1316.1" stroke="#06c006" stroke-width="1.9" fill="none"/>
<path d="M958 2138V2099.4H1081.3V2114.1" stroke="#000" stroke-width="1.9" fill="none"/>
<path d="M958 2181.4V2153.2H1014.7V2175.2" stroke="#000" stroke-width="1.9" fill="none"/>
<path d="M1024.3 2175.2V2153.2H1081.3V2360.2" stroke="#000" stroke-width="1.9" fill="none"/>
<path d="M1183 2138V2099.4H1306.2V2114.1" stroke="#000" stroke-width="1.9" fill="none"/>
<path d="M1183 2198V2153.2H1239.5V2167.8" stroke="#000" stroke-width="1.9" fill="none"/>
<path d="M1248.8 2167.8V2153.2H1306.2V2300.5" stroke="#000" stroke-width="1.9" fill="none"/>
<g font-family='"DejaVu Sans", "Liberation Sans", sans-serif' font-weight="bold" font-size="25.6" letter-spacing="0.85" text-anchor="middle" fill="#000">
<text x="1019.1" y="2095.3">****</text>
<text x="1052.4" y="2147.9">****</text>
<text x="1244.7" y="2095.3">***</text>
<text x="1278" y="2147.9">****</text>
</g>
<g font-family='"Liberation Sans", sans-serif' font-size="19.3" text-anchor="middle" fill="#111">
<text x="985.7" y="2140.6">ns</text>
<text x="1210.9" y="2140.6">ns</text>
</g>
<g font-family='"Liberation Sans", sans-serif' font-weight="bold" text-anchor="middle" fill="#000">
<text x="1018.7" y="2489" font-size="20.1">TGM2</text><text x="1242.2" y="2489" font-size="20.1">p-p38 MAPK/p38 MAPK</text>
<text transform="translate(847.6 2274.3) rotate(-90)" font-size="20.8">Relative intensity</text>
<text transform="translate(872.6 2274.3) rotate(-90)" font-size="20.8">(X/GAPDH)</text>
</g>
<g font-family='"Liberation Sans", sans-serif' font-size="20" fill="#111">
<rect x="1404.8" y="2145" width="25.8" height="12.6" fill="#0202fa"/>
<text x="1445.8" y="2158.5">SK-MES-1</text>
<rect x="1404.8" y="2179.1" width="25.8" height="12.6" fill="#fa0505"/>
<text x="1445.8" y="2192.6">SK-MES-1+NC</text>
<rect x="1404.8" y="2213.2" width="25.8" height="12.6" fill="#06c006"/>
<text x="1445.8" y="2226.7">SK-MES-1+TGM2-siRNA1</text>
</g>
</g>
</svg>
</body></html>
